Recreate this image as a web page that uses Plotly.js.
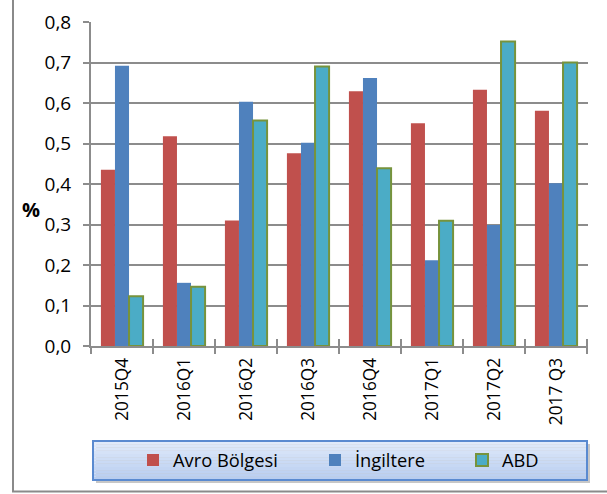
<!DOCTYPE html>
<html>
<head>
<meta charset="utf-8">
<script src="https://cdn.plot.ly/plotly-3.0.1.min.js"></script>
<style>
html,body{margin:0;padding:0;background:#fff;}
#chart{width:607px;height:494px;}
</style>
</head>
<body>
<div id="chart"></div>
<script>
// ---- data ----
const categories = ["2015Q4","2016Q1","2016Q2","2016Q3","2016Q4","2017Q1","2017Q2","2017 Q3"];
const seriesNames = ["Avro Bölgesi","İngiltere","ABD"];
const avro      = [0.435, 0.518, 0.310, 0.476, 0.629, 0.550, 0.633, 0.581];
const ingiltere = [0.692, 0.156, 0.603, 0.502, 0.662, 0.212, 0.299, 0.402];
const abd       = [0.123, 0.146, 0.557, 0.690, 0.439, 0.309, 0.752, 0.700];
const yTicks = [0,0.1,0.2,0.3,0.4,0.5,0.6,0.7,0.8];
const yTickText = ["0,0","0,1","0,2","0,3","0,4","0,5","0,6","0,7","0,8"];
const yAxisLabel = "%";

// ---- layout helpers ----
const W = 607, H = 494;
const M = {l: 91, r: 19, t: 22, b: 148};
const PW = W - M.l - M.r, PH = H - M.t - M.b;
const px = x => (x - M.l) / PW;
const py = y => (H - M.b - y) / PH;

const FONT = "Open Sans, Liberation Sans, sans-serif";

const traces = [
  {type:'bar', name: seriesNames[0], x: categories, y: avro, legend:'legend',
   marker:{color:'#C0504D', line:{width:0}}},
  {type:'bar', name: seriesNames[1], x: categories, y: ingiltere, legend:'legend2',
   marker:{color:'#4F81BD', line:{width:0}}},
  {type:'bar', name: seriesNames[2], x: categories, y: abd, legend:'legend3',
   marker:{color:'#4BACC6', line:{color:'#77933C', width:2}}}
];

const shapes = [];
// outer chart border
shapes.push({type:'rect', xref:'paper', yref:'paper',
  x0: px(13), x1: px(640), y0: py(491.5), y1: py(-30),
  line:{color:'#8a8a8a', width:2}, fillcolor:'rgba(0,0,0,0)', layer:'below'});
// inner part of the crossing category-boundary ticks
for (let i = 1; i <= categories.length; i++) {
  shapes.push({type:'line', xref:'x', yref:'paper',
    x0: i - 0.5, x1: i - 0.5, y0: 0, y1: py(339),
    line:{color:'#8c8c8c', width:2}, layer:'above'});
}
// legend box with shadow and vertical gradient
const lx0 = 93, lx1 = 587, ly0 = 441, ly1 = 480;
shapes.push({type:'rect', xref:'paper', yref:'paper',
  x0: px(lx0+3), x1: px(lx1+3), y0: py(ly1+3), y1: py(ly0+3),
  line:{width:0}, fillcolor:'rgba(0,0,0,0.22)', layer:'below'});
const nb = 12;
const cTop = [224,234,250], cBot = [184,205,240];
for (let i = 0; i < nb; i++) {
  const t = i/(nb-1);
  const c = cTop.map((v,k)=>Math.round(v + (cBot[k]-v)*t));
  shapes.push({type:'rect', xref:'paper', yref:'paper',
    x0: px(lx0), x1: px(lx1),
    y0: py(ly0 + (ly1-ly0)*(i+1)/nb), y1: py(ly0 + (ly1-ly0)*i/nb),
    line:{width:0}, fillcolor:`rgb(${c[0]},${c[1]},${c[2]})`, layer:'below'});
}
shapes.push({type:'rect', xref:'paper', yref:'paper',
  x0: px(lx0), x1: px(lx1), y0: py(ly1), y1: py(ly0),
  line:{color:'#5a8ad0', width:2}, fillcolor:'rgba(0,0,0,0)', layer:'below'});

const legendBase = (xpx) => ({orientation:'h', x: px(xpx), y: py(460), xanchor:'left', yanchor:'middle',
    bgcolor:'rgba(0,0,0,0)', borderwidth:0, itemwidth: 30,
    font:{family: FONT, size: 18.3, color:'#000'}});

const layout = {
  width: W, height: H,
  margin: M,
  paper_bgcolor:'#ffffff', plot_bgcolor:'#ffffff',
  font:{family: FONT, size: 18, color:'#000'},
  barmode:'group', bargap: 0.32, bargroupgap: 0,
  separators: ',.',
  showlegend: true,
  legend: legendBase(133),
  legend2: legendBase(315),
  legend3: legendBase(462),
  xaxis:{type:'category', categoryarray: categories, categoryorder:'array',
    showgrid:false, zeroline:false,
    showline:true, linecolor:'#8c8c8c', linewidth:2,
    ticks:'outside', tickson:'boundaries', ticklen:6, tickwidth:2, tickcolor:'#8c8c8c',
    tickangle:-90, ticklabelstandoff: 3,
    tickfont:{family: FONT, size:17.3, color:'#000'}},
  yaxis:{range:[0,0.8], tickvals: yTicks, ticktext: yTickText,
    showgrid:true, gridcolor:'#8c8c8c', gridwidth:2, zeroline:false,
    showline:true, linecolor:'#8c8c8c', linewidth:2,
    ticks:'outside', ticklen:6, tickwidth:2, tickcolor:'#8c8c8c',
    ticklabelstandoff: 8,
    tickfont:{family: FONT, size:19, color:'#000'}},
  annotations:[{text: yAxisLabel, xref:'paper', yref:'paper', x: px(31), y: py(209),
    xanchor:'center', yanchor:'middle',
    showarrow:false, font:{family: FONT, size:20, color:'#000', weight:'bold'}}],
  shapes: shapes
};

Plotly.newPlot('chart', traces, layout, {displayModeBar:false, staticPlot:true});
</script>
</body>
</html>
